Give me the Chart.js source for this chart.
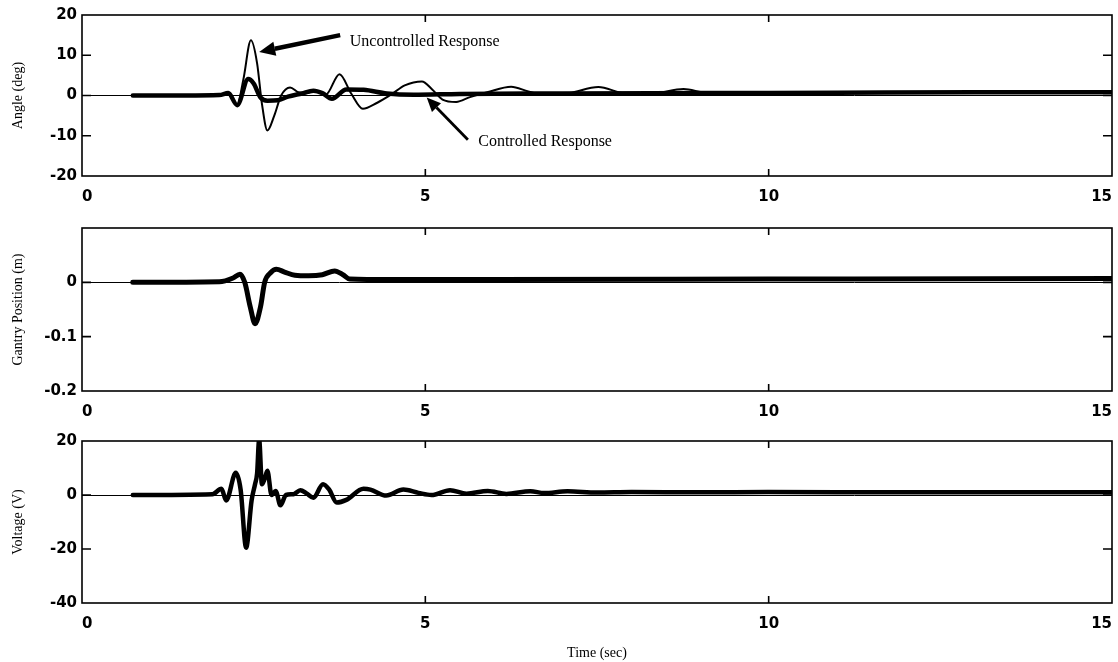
<!DOCTYPE html>
<html>
<head>
<meta charset="utf-8">
<script src="https://cdn.jsdelivr.net/npm/chart.js@4.4.1/dist/chart.umd.min.js"></script>
<style>
body { margin: 0; background: #fff; width: 1118px; height: 662px; overflow: hidden; position: relative; }
canvas { position: absolute; left: 0; }
</style>
</head>
<body>
<canvas id="angle" width="1118" height="210" style="top:0px"></canvas>
<canvas id="gantry" width="1118" height="210" style="top:213px"></canvas>
<canvas id="voltage" width="1118" height="236" style="top:426px"></canvas>
<script>
// angle (deg), thick line = controlled, thin = uncontrolled
const controlledTime = [0.74, 1.5, 2.0, 2.13, 2.26, 2.42, 2.5, 2.6, 2.7, 2.85, 3.0, 3.2, 3.37, 3.5, 3.64, 3.85, 4.1, 4.44, 4.83, 5.5, 7, 9, 11, 13, 15]
const controlled = [0, 0, 0.1, 0.6, -2.4, 4.1, 3.0, -0.5, -1.3, -1.2, -0.3, 0.5, 1.2, 0.6, -0.8, 1.5, 1.4, 0.5, 0.2, 0.4, 0.5, 0.6, 0.7, 0.8, 0.8]

const uncontrolledTime = [0.74, 2.0, 2.13, 2.26, 2.35, 2.46, 2.55, 2.62, 2.7, 2.8, 2.9, 3.03, 3.15, 3.25, 3.4, 3.55, 3.75, 3.92, 4.09, 4.3, 4.5, 4.7, 4.95, 5.1, 5.25, 5.45, 5.65, 5.9, 6.25, 6.5, 6.75, 7.1, 7.52, 7.9, 8.3, 8.76, 9.1, 10, 12, 15]
const uncontrolled = [0, 0.1, 0.6, -2.4, 4.0, 13.7, 8.0, -2.0, -8.7, -5.0, 0, 2.0, 0.8, 0.5, 1.2, 0.2, 5.3, 0.5, -3.3, -1.8, 0.2, 2.5, 3.5, 1.5, -1.0, -1.6, -0.4, 0.8, 2.2, 1.0, 0.1, 0.6, 2.1, 0.6, 0.5, 1.6, 0.7, 0.6, 0.7, 0.8]

// gantry position (m)
const gantryTime = [0.74, 2.0, 2.2, 2.3, 2.37, 2.45, 2.52, 2.6, 2.66, 2.75, 2.83, 2.95, 3.1, 3.3, 3.5, 3.68, 3.8, 3.9, 4.5, 6, 10, 15]
const gantry = [0, 0.001, 0.008, 0.015, 0, -0.045, -0.076, -0.045, 0, 0.018, 0.024, 0.019, 0.013, 0.012, 0.014, 0.021, 0.014, 0.006, 0.005, 0.005, 0.006, 0.007]

// voltage (V)
const voltageTime = [0.74, 1.9, 2.03, 2.1, 2.24, 2.31, 2.39, 2.47, 2.52, 2.55, 2.58, 2.62, 2.66, 2.7, 2.76, 2.82, 2.89, 2.97, 3.08, 3.18, 3.27, 3.37, 3.51, 3.6, 3.71, 3.85, 4.1, 4.2, 4.43, 4.68, 4.9, 5.09, 5.36, 5.6, 5.91, 6.18, 6.53, 6.73, 7.07, 7.5, 8, 9, 10, 12, 15]
const voltage = [0, 0.3, 2.3, -2.0, 8.2, 2.0, -19.5, -2.0, 4.0, 8.0, 20.5, 4.0, 6.0, 9.0, 0, 1.5, -3.8, 0, 0.3, 1.8, 0.6, -1.0, 4.0, 2.0, -2.8, -1.8, 2.3, 2.0, -0.2, 2.0, 0.8, 0, 1.8, 0.5, 1.5, 0.4, 1.4, 0.7, 1.4, 0.9, 1.1, 1.0, 1.1, 1.0, 1.0]

const timeTicks = [0, 5, 10, 15]

function pts(xs, ys) {
    return xs.map((x, i) => ({x: x, y: ys[i]}))
}

const tickFont = {family: '"DejaVu Sans", sans-serif', size: 15, weight: 'bold'}
const titleFont = {family: '"Liberation Serif", "Times New Roman", serif', size: 14}

// box + inward tick marks, like the old matlab plots
const frame = {
    id: 'frame',
    afterDraw(chart) {
        const ctx = chart.ctx
        const a = chart.chartArea
        const x = chart.scales.x
        const y = chart.scales.y
        ctx.save()
        ctx.strokeStyle = '#000'
        ctx.lineWidth = 1.6
        ctx.strokeRect(a.left, a.top, a.right - a.left, a.bottom - a.top)
        ctx.beginPath()
        x.ticks.forEach(t => {
            if (t.value <= x.min + 1e-9 || t.value >= x.max - 1e-9) return
            const px = x.getPixelForValue(t.value)
            ctx.moveTo(px, a.top)
            ctx.lineTo(px, a.top + 7)
            ctx.moveTo(px, a.bottom)
            ctx.lineTo(px, a.bottom - 7)
        })
        y.ticks.forEach(t => {
            if (t.value <= y.min + 1e-9 || t.value >= y.max - 1e-9) return
            const py = y.getPixelForValue(t.value)
            ctx.moveTo(a.left, py)
            ctx.lineTo(a.left + 9, py)
            ctx.moveTo(a.right, py)
            ctx.lineTo(a.right - 9, py)
        })
        ctx.stroke()
        ctx.restore()
    }
}

function arrow(ctx, x0, y0, x1, y1, w, head) {
    const ang = Math.atan2(y1 - y0, x1 - x0)
    const bx = x1 - head * Math.cos(ang)
    const by = y1 - head * Math.sin(ang)
    ctx.lineWidth = w
    ctx.beginPath()
    ctx.moveTo(x0, y0)
    ctx.lineTo(bx, by)
    ctx.stroke()
    ctx.beginPath()
    ctx.moveTo(x1, y1)
    ctx.lineTo(bx + head * 0.45 * Math.sin(ang), by - head * 0.45 * Math.cos(ang))
    ctx.lineTo(bx - head * 0.45 * Math.sin(ang), by + head * 0.45 * Math.cos(ang))
    ctx.closePath()
    ctx.fill()
}

const notes = {
    id: 'notes',
    afterDatasetsDraw(chart) {
        const ctx = chart.ctx
        const x = chart.scales.x
        const y = chart.scales.y
        ctx.save()
        ctx.fillStyle = '#000'
        ctx.strokeStyle = '#000'
        arrow(ctx, x.getPixelForValue(3.76), y.getPixelForValue(15.0), x.getPixelForValue(2.58), y.getPixelForValue(10.8), 4.5, 16)
        arrow(ctx, x.getPixelForValue(5.62), y.getPixelForValue(-11.0), x.getPixelForValue(5.02), y.getPixelForValue(-0.5), 2.8, 14)
        ctx.font = '16px "Liberation Serif", "Times New Roman", serif'
        ctx.textBaseline = 'middle'
        ctx.textAlign = 'left'
        ctx.fillText('Uncontrolled Response', x.getPixelForValue(3.9), y.getPixelForValue(13.3))
        ctx.fillText('Controlled Response', x.getPixelForValue(5.77), y.getPixelForValue(-11.6))
        ctx.restore()
    }
}

function makePanel(id, datasets, yMin, yMax, yStep, yTitle, xAxisHeight, xTitle, plugins) {
    new Chart(document.getElementById(id), {
        type: 'line',
        data: {datasets: datasets},
        plugins: plugins,
        options: {
            responsive: false,
            animation: false,
            layout: {padding: {top: 15, right: 6, left: 0, bottom: 0}},
            plugins: {legend: {display: false}, tooltip: {enabled: false}},
            elements: {point: {radius: 0}, line: {cubicInterpolationMode: 'monotone', borderCapStyle: 'round', borderJoinStyle: 'round'}},
            scales: {
                x: {
                    type: 'linear',
                    min: 0,
                    max: 15,
                    afterBuildTicks: s => { s.ticks = timeTicks.map(v => ({value: v})) },
                    ticks: {color: '#000', font: tickFont, padding: 12, maxRotation: 0, align: 'inner'},
                    grid: {display: false, drawTicks: false},
                    border: {display: false},
                    title: {display: !!xTitle, text: xTitle || '', color: '#000', font: titleFont, padding: {top: 0, bottom: 0}},
                    afterFit: s => {
                        s.height = xAxisHeight
                        s.paddingLeft = 0
                        s.paddingRight = 0
                    }
                },
                y: {
                    min: yMin,
                    max: yMax,
                    ticks: {
                        stepSize: yStep,
                        color: '#000',
                        font: tickFont,
                        padding: 5,
                        callback: v => v > yMax - yStep / 2 && yMax < 1 ? '' : String(Math.round(v * 10) / 10)
                    },
                    grid: {
                        drawTicks: false,
                        color: c => Math.abs(c.tick.value) < 1e-9 ? '#000' : 'rgba(0,0,0,0)',
                        lineWidth: 1
                    },
                    border: {display: false},
                    title: {display: true, text: yTitle, color: '#000', font: titleFont, padding: {top: 10, bottom: 0}},
                    afterFit: s => {
                        s.width = 82
                        s.paddingTop = 0
                        s.paddingBottom = 0
                    }
                }
            }
        }
    })
}

makePanel('angle', [
    {data: pts(uncontrolledTime, uncontrolled), borderColor: '#000', borderWidth: 2},
    {data: pts(controlledTime, controlled), borderColor: '#000', borderWidth: 4.5}
], -20, 20, 10, 'Angle (deg)', 34, null, [frame, notes])

makePanel('gantry', [
    {data: pts(gantryTime, gantry), borderColor: '#000', borderWidth: 5}
], -0.2, 0.1, 0.1, 'Gantry Position (m)', 32, null, [frame])

makePanel('voltage', [
    {data: pts(voltageTime, voltage), borderColor: '#000', borderWidth: 4.5}
], -40, 20, 20, 'Voltage (V)', 59, 'Time (sec)', [frame])
</script>
</body>
</html>
